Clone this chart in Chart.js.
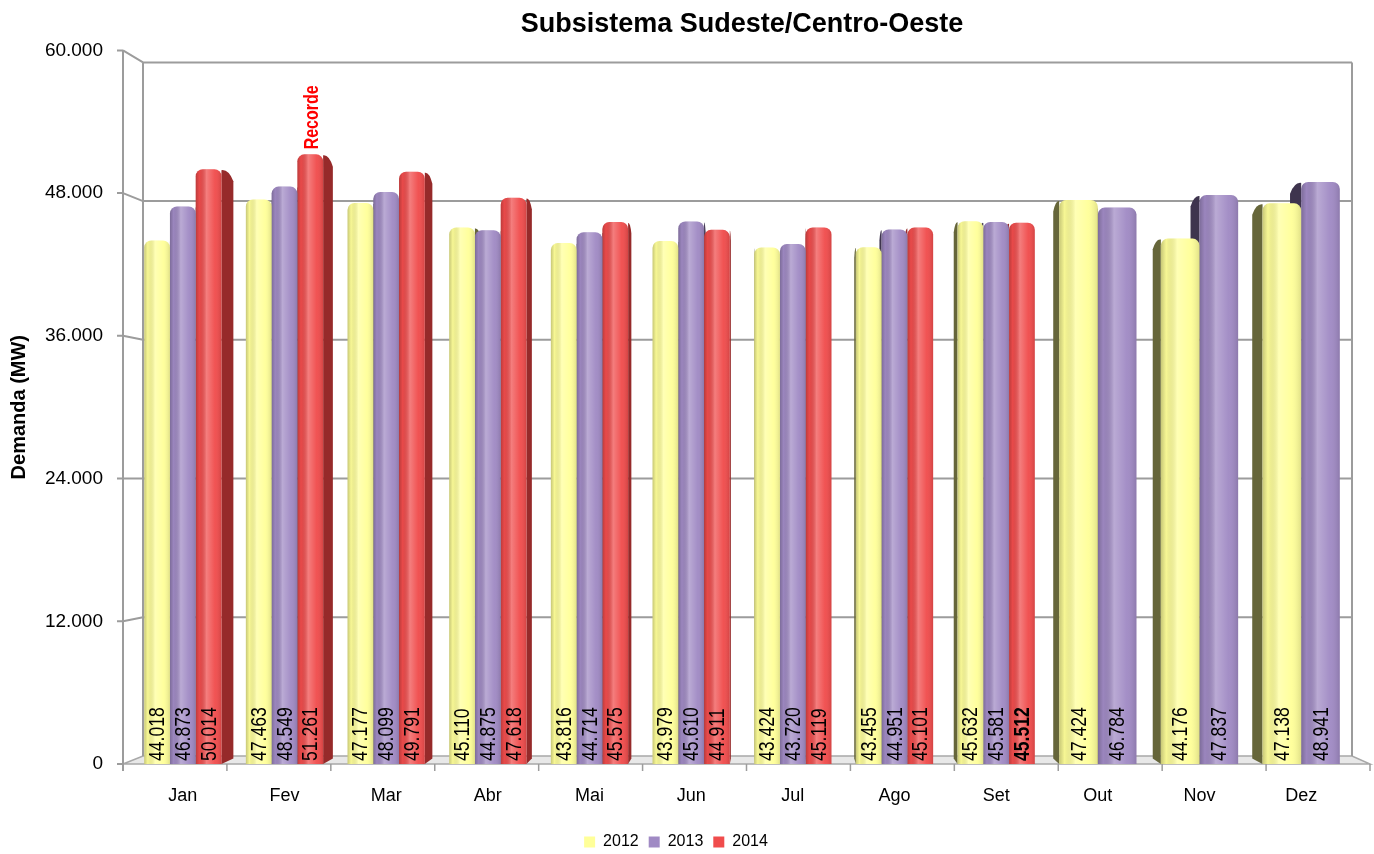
<!DOCTYPE html>
<html lang="pt-BR">
<head>
<meta charset="utf-8">
<title>Subsistema Sudeste/Centro-Oeste</title>
<script src="https://cdn.jsdelivr.net/npm/chart.js@4/dist/chart.umd.min.js"></script>
<style>
    html, body { margin: 0; padding: 0; background: #fff; }
    #wrap { width: 1374px; height: 854px; }
</style>
</head>
<body>
<div id="wrap"><canvas id="demandaChart" width="1374" height="854"></canvas></div>
<script>
const meses = ["Jan", "Fev", "Mar", "Abr", "Mai", "Jun", "Jul", "Ago", "Set", "Out", "Nov", "Dez"];

const demanda2012 = [44018, 47463, 47177, 45110, 43816, 43979, 43424, 43455, 45632, 47424, 44176, 47138];
const demanda2013 = [46873, 48549, 48099, 44875, 44714, 45610, 43720, 44951, 45581, 46784, 47837, 48941];
const demanda2014 = [50014, 51261, 49791, 47618, 45575, 44911, 45119, 45101, 45512, null, null, null];

const marcasEixoY = [0, 12000, 24000, 36000, 48000, 60000];

// mês do recorde e último valor medido (rótulo em negrito)
const mesRecorde = 1;
const mesAtual = 8;

const FONTE = "'Liberation Sans', Arial, sans-serif";

const cores = [
    { frente: "#ffff99", lado: "#66663a" },
    { frente: "#a08ac4", lado: "#3e344e" },
    { frente: "#f04c4c", lado: "#962a2a" }
];

const fmt = v => v === 0 ? "0" : (v / 1000).toFixed(3);

// caixa 3D: parede do fundo um pouco recuada em relação ao plano da frente
function geometria(chart) {
    const a = chart.chartArea;
    return {
        frenteEsq: a.left - 9,
        frenteDir: a.right + 18,
        fundoEsq: a.left + 11,
        fundoDir: a.right,
        fundoTopo: a.top + 12,
        fundoBase: a.bottom - 8,
        topo: a.top,
        base: a.bottom
    };
}

function paraFundo(g, x, y, f) {
    const cxF = (g.frenteEsq + g.frenteDir) / 2;
    const cxB = (g.fundoEsq + g.fundoDir) / 2;
    const s = (g.fundoDir - g.fundoEsq) / (g.frenteDir - g.frenteEsq);
    const xb = cxB + (x - cxF) * s;
    const yb = g.fundoTopo + (y - g.topo) * (g.fundoBase - g.fundoTopo) / (g.base - g.topo);
    return { x: x + (xb - x) * f, y: y + (yb - y) * f };
}

// texto na vertical, comprimido no sentido da leitura (efeito de fonte estreita)
function textoVertical(ctx, txt, x, y, font, cor) {
    ctx.save();
    ctx.translate(x, y);
    ctx.rotate(-Math.PI / 2);
    ctx.scale(0.8, 1);
    ctx.font = font;
    ctx.fillStyle = cor;
    ctx.textAlign = "left";
    ctx.textBaseline = "middle";
    ctx.fillText(txt, 0, 0);
    ctx.restore();
}

const caixa3d = {
    id: "caixa3d",

    beforeDatasetsDraw(chart) {
        const ctx = chart.ctx;
        const g = geometria(chart);
        const y = chart.scales.y;

        ctx.save();

        // piso
        ctx.beginPath();
        ctx.moveTo(g.frenteEsq, g.base);
        ctx.lineTo(g.fundoEsq, g.fundoBase);
        ctx.lineTo(g.fundoDir, g.fundoBase);
        ctx.lineTo(g.frenteDir, g.base);
        ctx.closePath();
        ctx.fillStyle = "#e8e8e8";
        ctx.fill();
        ctx.strokeStyle = "#a8a8a8";
        ctx.lineWidth = 1.5;
        ctx.stroke();

        // linhas de grade na parede do fundo e na lateral
        ctx.strokeStyle = "#9c9c9c";
        ctx.lineWidth = 2;
        marcasEixoY.forEach(v => {
            const yF = y.getPixelForValue(v);
            const yB = paraFundo(g, g.frenteEsq, yF, 1).y;
            ctx.beginPath();
            if (v > 0) {
                ctx.moveTo(g.fundoEsq, yB);
                ctx.lineTo(g.fundoDir, yB);
                ctx.moveTo(g.frenteEsq, yF);
                ctx.lineTo(g.fundoEsq, yB);
            }
            ctx.moveTo(g.frenteEsq - 6, yF);
            ctx.lineTo(g.frenteEsq, yF);
            ctx.stroke();
        });

        ctx.beginPath();
        ctx.moveTo(g.frenteEsq, g.topo);
        ctx.lineTo(g.frenteEsq, g.base + 7);
        ctx.moveTo(g.fundoEsq, g.fundoTopo);
        ctx.lineTo(g.fundoEsq, g.fundoBase);
        ctx.moveTo(g.fundoDir, g.fundoTopo);
        ctx.lineTo(g.fundoDir, g.fundoBase);
        ctx.stroke();

        // marcas das categorias na borda do piso
        ctx.lineWidth = 1.5;
        ctx.beginPath();
        const passo = (g.frenteDir - g.frenteEsq) / meses.length;
        for (let i = 1; i <= meses.length; i++) {
            const x = g.frenteEsq + i * passo;
            ctx.moveTo(x, g.base);
            ctx.lineTo(x, g.base + 7);
        }
        ctx.stroke();

        // faces laterais das barras (ficam atrás das frentes)
        chart.data.datasets.forEach((ds, di) => {
            const meta = chart.getDatasetMeta(di);
            meta.data.forEach((el, i) => {
                if (ds.data[i] == null) return;
                const cx = (g.frenteEsq + g.frenteDir) / 2;
                const xe = el.x < cx ? el.x + el.width / 2 : el.x - el.width / 2;
                const t = paraFundo(g, xe, el.y, 0.7);
                const b = paraFundo(g, xe, el.base, 0.7);
                ctx.beginPath();
                ctx.moveTo(xe, el.y + 1);
                ctx.quadraticCurveTo(xe + (t.x - xe) * 0.6, el.y, t.x, t.y + 6);
                ctx.lineTo(b.x, b.y);
                ctx.lineTo(xe, el.base);
                ctx.closePath();
                ctx.fillStyle = cores[di].lado;
                ctx.fill();
            });
        });

        ctx.restore();
    },

    afterDatasetsDraw(chart) {
        const ctx = chart.ctx;
        ctx.save();

        chart.data.datasets.forEach((ds, di) => {
            const meta = chart.getDatasetMeta(di);
            meta.data.forEach((el, i) => {
                const v = ds.data[i];
                if (v == null) return;
                const x0 = el.x - el.width / 2;
                const h = el.base - el.y;

                // brilho cilíndrico na frente
                const grad = ctx.createLinearGradient(x0, 0, x0 + el.width, 0);
                grad.addColorStop(0, "rgba(0,0,0,0.22)");
                grad.addColorStop(0.14, "rgba(0,0,0,0.03)");
                grad.addColorStop(0.42, "rgba(255,255,255,0.28)");
                grad.addColorStop(0.75, "rgba(255,255,255,0.04)");
                grad.addColorStop(1, "rgba(0,0,0,0.12)");
                ctx.beginPath();
                ctx.roundRect(x0, el.y, el.width, h, [7, 7, 0, 0]);
                ctx.fillStyle = grad;
                ctx.fill();

                // valor escrito na vertical dentro da barra
                const negrito = di === 2 && i === mesAtual ? "bold " : "";
                textoVertical(ctx, fmt(v), el.x + 1, el.base - 3, negrito + "22px " + FONTE, "#000");

                if (di === 2 && i === mesRecorde) {
                    textoVertical(ctx, "Recorde", el.x + 2, el.y - 5, "bold 20px " + FONTE, "#ff0000");
                }
            });
        });

        ctx.restore();
    }
};

Chart.defaults.font.family = FONTE;
Chart.defaults.color = "#000";

const serie = (label, data, c) => ({
    label: label,
    data: data,
    backgroundColor: c.frente,
    borderColor: c.lado,
    borderWidth: 0,
    borderRadius: { topLeft: 7, topRight: 7, bottomLeft: 0, bottomRight: 0 },
    borderSkipped: "bottom",
    barPercentage: 1,
    categoryPercentage: 0.76,
    clip: false
});

new Chart(document.getElementById("demandaChart"), {
    type: "bar",
    data: {
        labels: meses,
        datasets: [
            serie("2012", demanda2012, cores[0]),
            serie("2013", demanda2013, cores[1]),
            serie("2014", demanda2014, cores[2])
        ]
    },
    options: {
        responsive: false,
        animation: false,
        skipNull: true,
        layout: {
            padding: { left: 0, right: 22, top: 0, bottom: -6 }
        },
        plugins: {
            title: {
                display: true,
                text: "Subsistema Sudeste/Centro-Oeste",
                fullSize: false,
                color: "#000",
                font: { size: 27, weight: "bold" },
                padding: { top: 8, bottom: 10 }
            },
            legend: {
                position: "bottom",
                labels: {
                    boxWidth: 11,
                    boxHeight: 11,
                    padding: 10,
                    font: { size: 16 }
                }
            },
            tooltip: { enabled: false }
        },
        scales: {
            x: {
                grid: { display: false, drawTicks: false },
                border: { display: false },
                ticks: { padding: 21, font: { size: 18 } },
                afterFit(scale) { scale.height = 60; }
            },
            y: {
                min: 0,
                max: 60000,
                grid: { display: false, drawTicks: false },
                border: { display: false },
                afterBuildTicks(scale) {
                    scale.ticks = marcasEixoY.map(v => ({ value: v }));
                },
                ticks: {
                    padding: 29,
                    font: { size: 19 },
                    callback: v => fmt(v)
                },
                title: {
                    display: true,
                    text: "Demanda (MW)",
                    font: { size: 20, weight: "bold" },
                    padding: { top: 7, bottom: 0 }
                },
                afterFit(scale) { scale.width = 132; }
            }
        }
    },
    plugins: [caixa3d]
});
</script>
</body>
</html>
